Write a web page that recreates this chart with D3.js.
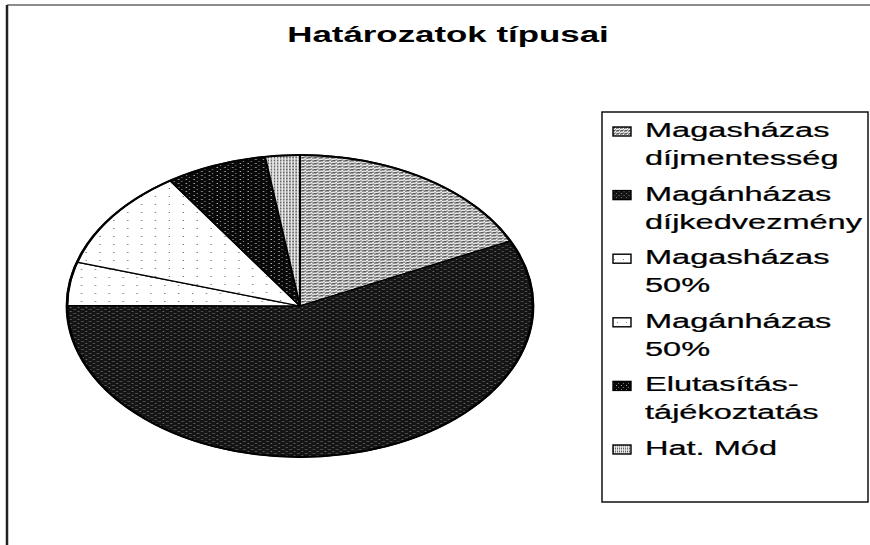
<!DOCTYPE html>
<html>
<head>
<meta charset="utf-8">
<script src="https://cdn.jsdelivr.net/npm/d3@7"></script>
<style>
  html, body { margin: 0; padding: 0; background: #fff; }
  svg { display: block; }
  text { font-family: "Liberation Sans", Arial, sans-serif; fill: #000; }
</style>
</head>
<body>
<svg id="chart" width="870" height="545"></svg>
<script>
// ---- data ----
const title = "Határozatok típusai";
const categories = ["Magasházas díjmentesség", "Magánházas díjkedvezmény", "Magasházas 50%", "Magánházas 50%", "Elutasítás-tájékoztatás", "Hat. Mód"];
const legendLines = [["Magasházas", "díjmentesség"], ["Magánházas", "díjkedvezmény"], ["Magasházas", "50%"], ["Magánházas", "50%"], ["Elutasítás-", "tájékoztatás"], ["Hat. Mód"]];
const values = [17.9, 57.1, 4.6, 10.9, 7.0, 2.4];
const patternIds = ["p0", "p1", "p2", "p3", "p4", "p5"];

// ---- layout ----
const W = 870, H = 545;
const stretch = 1.55;           // the original picture is stretched horizontally
const cx = 300, cy = 306, ry = 151, rx = 233;

const svg = d3.select("#chart");
const defs = svg.append("defs");

// textured fills (scan-like)
function pattern(id, w, h, bg, dots) {
  const p = defs.append("pattern").attr("id", id)
    .attr("patternUnits", "userSpaceOnUse").attr("width", w).attr("height", h);
  p.append("rect").attr("width", w).attr("height", h).attr("fill", bg);
  dots.forEach(d => p.append("rect").attr("x", d[0]).attr("y", d[1])
    .attr("width", d[2]).attr("height", d[3]).attr("fill", d[4]));
}
pattern("p0", 4, 3, "#a4a4a4", [[0,0,3,1,"#e8e8e8"],[1,1,2,1,"#5a5a5a"],[3,2,1,1,"#ffffff"],[0,2,1,1,"#808080"]]);
pattern("p1", 5, 4, "#141414", [[1,1,1,1,"#707070"],[3,3,2,1,"#4a4a4a"]]);
pattern("p2", 9, 8, "#ffffff", [[2,3,0.8,0.8,"#444"]]);
pattern("p3", 9, 8, "#ffffff", [[5,2,0.8,0.8,"#444"]]);
pattern("p4", 5, 4, "#080808", [[1,1,0.8,1,"#d0d0d0"],[3,3,0.8,1,"#888"]]);
pattern("p5", 2, 3, "#adadad", [[0,0,1,3,"#e8e8e8"],[1,1,1,1,"#666"]]);

// outer frame (only top & left visible in the original)
svg.append("line").attr("x1", 7).attr("y1", 5).attr("x2", W).attr("y2", 5)
  .attr("stroke", "#666").attr("stroke-width", 1.5);
svg.append("line").attr("x1", 7).attr("y1", 5).attr("x2", 7).attr("y2", H)
  .attr("stroke", "#222").attr("stroke-width", 2.5);

// title
svg.append("text")
  .attr("transform", `translate(448,42) scale(${stretch},1)`)
  .attr("text-anchor", "middle")
  .attr("font-size", 22.5).attr("font-weight", "bold")
  .text(title);

// pie
const pie = d3.pie().sort(null).value(d => d).startAngle(0).endAngle(2 * Math.PI);
const arc = d3.arc().innerRadius(0).outerRadius(ry);
const g = svg.append("g").attr("transform", `translate(${cx},${cy}) scale(${rx / ry},1)`);
g.selectAll("path.slice").data(pie(values)).join("path")
  .attr("class", "slice")
  .attr("d", arc)
  .attr("fill", (d, i) => `url(#${patternIds[i]})`)
  .attr("stroke", "#000").attr("stroke-width", 1.3).attr("stroke-linejoin", "round");
g.append("ellipse").attr("rx", ry).attr("ry", ry)
  .attr("fill", "none").attr("stroke", "#000").attr("stroke-width", 1.8);

// legend
const lg = svg.append("g");
lg.append("rect").attr("x", 602).attr("y", 112).attr("width", 266).attr("height", 390)
  .attr("fill", "#fff").attr("stroke", "#111").attr("stroke-width", 1.5);
const yScale = d3.scalePoint().domain(categories).range([137, 455]);
categories.forEach((c, i) => {
  const y = yScale(c);
  lg.append("rect").attr("x", 613).attr("y", y - 10).attr("width", 18).attr("height", 9)
    .attr("fill", `url(#${patternIds[i]})`).attr("stroke", "#000").attr("stroke-width", 1.4);
  legendLines[i].forEach((t, j) => {
    lg.append("text")
      .attr("transform", `translate(645,${y + j * 28}) scale(${stretch},1)`)
      .attr("font-size", 21)
      .attr("stroke", "#000").attr("stroke-width", 0.25)
      .text(t);
  });
});
</script>
</body>
</html>
